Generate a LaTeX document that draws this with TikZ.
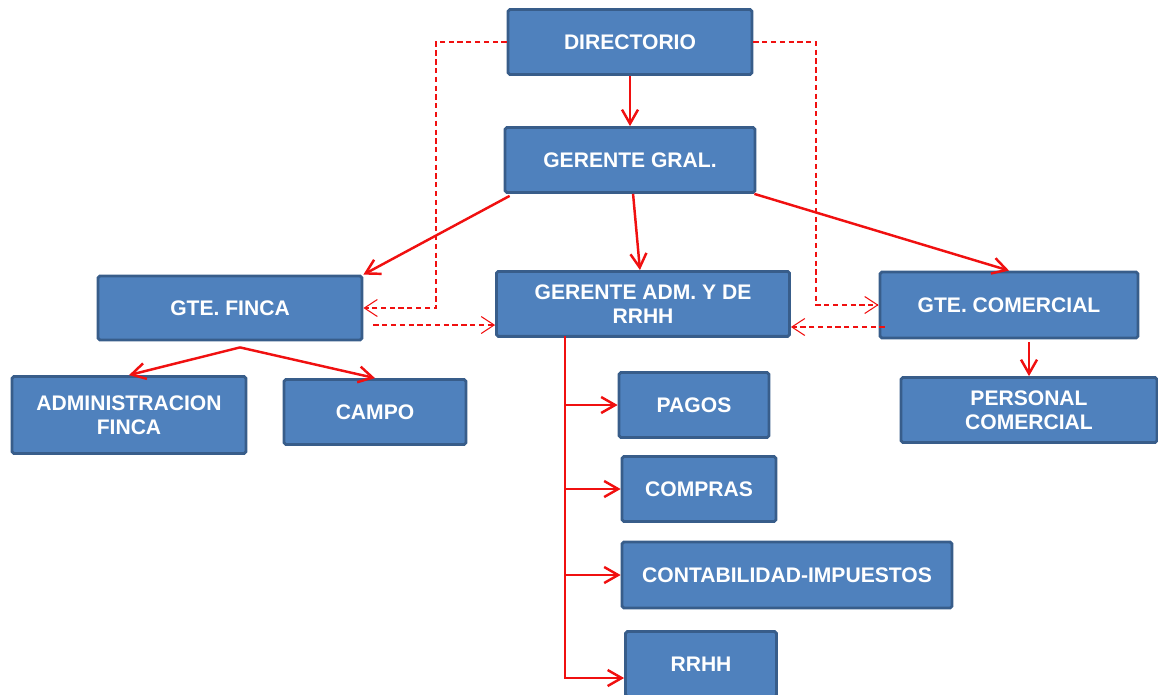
\documentclass[tikz,border=0pt]{standalone}
\usepackage{fontspec}
\setmainfont{Liberation Sans}
\usepackage{tikz}
\usetikzlibrary{positioning, calc, arrows.meta}
\usepackage{xcolor}
\definecolor{boxFill}{HTML}{4F81BD}
\definecolor{boxLine}{HTML}{385D8A}
\definecolor{linkRed}{HTML}{F01010}

\tikzset{
	orgBox/.style={rectangle, rounded corners=1pt, fill=boxFill, draw=boxLine, line width=1.6pt, text=white, align=center, font=\fontsize{12}{13.5}\selectfont\bfseries, minimum height=1.3cm, inner sep=2pt},
	mainArrow/.style={draw=linkRed, line width=1.4pt, -{Straight Barb[length=2.8mm, width=3.2mm]}},
	dashArrow/.style={draw=linkRed, line width=0.6pt, dash pattern=on 3pt off 2pt, -{Straight Barb[length=2.6mm, width=3.4mm]}}
}

\begin{document}
\begin{tikzpicture}[x=0.02cm, y=-0.02cm]
		\clip (0,0) rectangle (1158,694);
		\node (directorio)[orgBox, minimum width=4.88cm] at (630,42) {DIRECTORIO};
		\node (gerenteGral)[orgBox, minimum width=5cm] at (630,160) {GERENTE GRAL.};
		\node (gteFinca)[orgBox, minimum width=5.28cm, minimum height=1.28cm] at (230,308) {GTE. FINCA};
		\node (gerenteAdm)[orgBox, minimum width=5.86cm, anchor=north, text depth=0pt] at (643,270) {GERENTE ADM. Y DE\\RRHH};
		\node (gteComercial)[orgBox, minimum width=5.16cm, minimum height=1.32cm] at (1009,305) {GTE. COMERCIAL};
		\node (adminFinca)[orgBox, minimum width=4.68cm, minimum height=1.54cm] at (129,415) {ADMINISTRACION\\FINCA};
		\node (campo)[orgBox, minimum width=3.64cm] at (375,412) {CAMPO};
		\node (personalComercial)[orgBox, minimum width=5.12cm] at (1029,410) {PERSONAL\\COMERCIAL};
		\node (pagos)[orgBox, minimum width=3cm] at (694,405) {PAGOS};
		\node (compras)[orgBox, minimum width=3.08cm] at (699,489) {COMPRAS};
		\node (contabilidad)[orgBox, minimum width=6.6cm, minimum height=1.32cm] at (787,575) {CONTABILIDAD-IMPUESTOS};
		\node (rrhh)[orgBox, minimum width=3.02cm] at (701,664) {RRHH};

		\coordinate (leftBend) at (436,42);
		\coordinate (rightBend) at (816,42);
		\coordinate (admSpine) at (565,336);
		\coordinate (fincaDash) at ($(gteFinca.east)+(10,17)$);
		\coordinate (comercialDash) at ($(gteComercial.west)+(6,22)$);

		\draw[mainArrow] (directorio) -- (gerenteGral);
		\draw[mainArrow] ($(gerenteGral.south west)+(6,2)$) -- (gteFinca.north east);
		\draw[mainArrow] (gerenteGral) -- (gerenteAdm);
		\draw[mainArrow] ($(gerenteGral.south east)+(-2,0)$) -- (gteComercial.north);
		\draw[mainArrow] ($(gteFinca.south)+(10,6)$) -- (adminFinca.north);
		\draw[mainArrow] ($(gteFinca.south)+(10,6)$) -- (campo.north);
		\draw[mainArrow] ($(personalComercial.north |- gteComercial.south)+(0,3)$) -- (personalComercial.north);

		\draw[mainArrow] (admSpine) |- ($(rrhh.west)+(0,14)$);
		\foreach \sub in {pagos, compras, contabilidad}
			\draw[mainArrow] (admSpine |- \sub.west) -- (\sub.west);

		\draw[dashArrow] (directorio.west) -- (leftBend) |- (gteFinca.east);
		\draw[dashArrow] (directorio.east) -- (rightBend) |- (gteComercial.west);
		\draw[dashArrow] (fincaDash) -- (fincaDash -| gerenteAdm.west);
		\draw[dashArrow] (comercialDash) -- (comercialDash -| gerenteAdm.east);
	\end{tikzpicture}
\end{document}
